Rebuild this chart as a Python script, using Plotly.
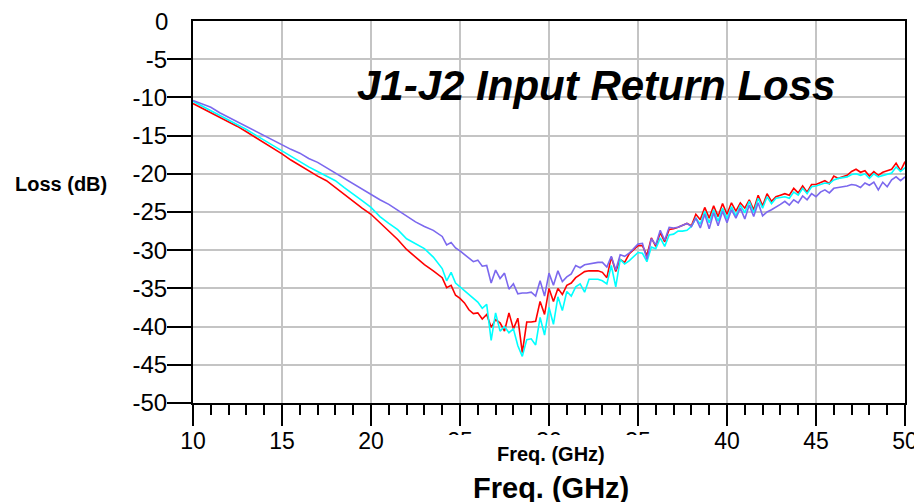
import numpy as np
import plotly.graph_objects as go

# Frequency grid (GHz)
freq_lo = [round(v, 2) for v in np.arange(10.0, 23.75, 0.5)]
freq_hi = [round(v, 2) for v in np.arange(24.0, 50.01, 0.25)]
freq = freq_lo + freq_hi

red_lo = [-10.8, -11.4, -11.9, -12.5, -13.1, -13.8, -14.5, -15.2, -16.0, -16.7,
          -17.4, -18.2, -18.9, -19.7, -20.3, -20.9, -21.8, -22.8, -23.6, -24.5,
          -25.3, -26.4, -27.5, -28.6, -29.9, -30.9, -31.9, -32.7]
red_hi = [-33.6, -34.9, -34.6, -35.9, -36.3, -36.9, -37.8, -38.3, -38.2, -39.0, -38.4, -40.1,
          -39.1, -39.5, -40.6, -38.2, -40.3, -38.9, -43.4, -39.4, -39.4, -39.3, -36.7, -38.4,
          -35.0, -36.7, -35.0, -35.8, -34.6, -34.3, -33.6, -33.2, -32.8, -32.7, -32.7, -32.7,
          -32.9, -33.6, -30.9, -32.8, -31.2, -31.6, -30.5, -30.0, -29.4, -29.4, -30.7, -28.4,
          -29.5, -27.7, -28.9, -27.3, -27.2, -27.0, -26.8, -26.5, -26.8, -25.3, -26.0, -24.4,
          -25.8, -24.2, -25.6, -23.9, -25.3, -23.8, -24.9, -23.8, -24.5, -23.4, -24.7, -22.8,
          -24.2, -22.6, -23.6, -23.0, -22.8, -22.6, -22.8, -21.9, -22.5, -21.6, -22.4, -21.4,
          -21.4, -21.2, -20.9, -21.3, -20.3, -20.6, -20.4, -20.2, -19.7, -19.4, -19.8, -19.6,
          -20.3, -19.7, -20.2, -19.8, -19.6, -19.4, -18.6, -19.6, -18.4]

cyan_lo = [-10.5, -11.1, -11.7, -12.3, -12.9, -13.6, -14.2, -14.9, -15.6, -16.3,
           -17.1, -17.8, -18.4, -19.1, -19.7, -20.3, -20.9, -21.8, -22.6, -23.5,
           -24.4, -25.6, -26.5, -27.3, -28.5, -29.2, -29.8, -30.9]
cyan_hi = [-32.4, -34.0, -32.9, -34.3, -34.8, -35.4, -35.9, -36.4, -36.8, -37.6, -37.1, -41.8,
           -38.2, -40.6, -40.0, -40.8, -40.3, -42.5, -43.9, -41.7, -41.6, -42.4, -38.8, -41.1,
           -37.5, -39.7, -36.1, -37.9, -35.4, -36.0, -34.8, -34.4, -35.5, -33.8, -33.8, -33.8,
           -34.0, -34.4, -32.0, -34.8, -31.2, -31.8, -31.4, -30.8, -30.3, -30.4, -31.5, -29.6,
           -29.8, -28.4, -29.5, -28.0, -27.9, -27.5, -27.5, -27.4, -26.9, -25.8, -26.6, -24.9,
           -26.4, -24.7, -26.2, -24.5, -25.9, -24.3, -25.5, -24.1, -25.1, -23.6, -25.1, -23.2,
           -24.5, -23.0, -23.9, -23.2, -23.1, -23.0, -23.2, -22.4, -22.8, -21.9, -22.6, -21.7,
           -21.6, -21.4, -21.2, -21.3, -20.8, -20.6, -20.5, -20.4, -20.1, -20.0, -20.2, -20.0,
           -20.6, -20.0, -20.4, -20.2, -20.1, -19.9, -19.1, -19.7, -19.2]

blue_lo = [-10.4, -10.9, -11.3, -12.0, -12.6, -13.2, -13.8, -14.4, -15.0, -15.7,
           -16.2, -16.8, -17.3, -18.0, -18.5, -19.2, -19.9, -20.6, -21.3, -22.1,
           -22.7, -23.4, -24.0, -24.8, -25.5, -26.3, -26.9, -27.4]
blue_hi = [-28.2, -29.3, -29.0, -29.7, -30.1, -30.6, -31.0, -31.5, -31.3, -32.1, -32.0, -34.3,
           -32.6, -33.7, -33.0, -35.1, -34.4, -35.7, -35.6, -35.6, -35.5, -36.0, -34.0, -36.0,
           -33.0, -34.6, -32.7, -34.1, -33.5, -33.1, -32.0, -32.3, -31.9, -31.8, -31.7, -31.6,
           -31.6, -32.2, -30.8, -32.6, -30.6, -30.8, -30.4, -29.8, -29.2, -29.1, -31.2, -28.5,
           -29.3, -27.4, -28.7, -27.0, -27.1, -27.0, -26.7, -26.5, -26.9, -25.8, -27.1, -25.3,
           -27.2, -25.1, -26.8, -24.9, -26.4, -24.7, -25.8, -24.5, -25.9, -24.1, -25.6, -23.8,
           -25.5, -25.0, -24.7, -24.4, -24.0, -23.6, -24.1, -23.4, -23.8, -22.9, -23.4, -22.6,
           -23.0, -22.4, -22.1, -22.5, -21.9, -21.8, -21.7, -21.6, -21.4, -21.5, -21.8, -21.2,
           -21.5, -21.1, -22.1, -21.1, -21.7, -20.8, -20.4, -20.9, -20.4]

series = [
    ("red", red_lo + red_hi, "#ff0000"),
    ("cyan", cyan_lo + cyan_hi, "#00ffff"),
    ("blue", blue_lo + blue_hi, "#7b68ee"),
]

y_ticks = list(range(-50, 1, 5))
y_ticktext = [str(v) for v in y_ticks]
x_ticks = [10, 15, 20, 25, 30, 35, 40, 45, 50]

FONT = "Liberation Sans, Arial, sans-serif"

fig = go.Figure()
for name, vals, col in series:
    fig.add_trace(go.Scatter(x=freq, y=vals, mode="lines", name=name,
                             line=dict(color=col, width=1.6), showlegend=False))

# page body has an 8px default margin, so the figure is 8px smaller than the window
fig.update_layout(
    width=914, height=494,
    margin=dict(l=185, r=17, t=13, b=99, autoexpand=False),
    paper_bgcolor="white", plot_bgcolor="white",
    font=dict(family=FONT, color="black"),
)
fig.update_xaxes(
    range=[10, 50], tickvals=x_ticks, ticktext=[str(v) for v in x_ticks],
    automargin=False, ticklabeloverflow="allow",
    showgrid=True, gridcolor="#c4c4c4", gridwidth=2,
    showline=True, linecolor="black", linewidth=2, mirror=True,
    ticks="outside", ticklen=21, tickwidth=1.5, tickcolor="black",
    ticklabelstandoff=-5,
    minor=dict(dtick=1, ticks="outside", ticklen=10, tickwidth=1.5, tickcolor="black", showgrid=False),
    tickfont=dict(size=23, family=FONT, color="black"),
    zeroline=False,
)
# ticks for -50..-5 on the axis; the top label "0" has no tick mark in the original
fig.update_yaxes(
    range=[-50, 0], tickvals=y_ticks[:-1], ticktext=y_ticktext[:-1],
    automargin=False, ticklabeloverflow="allow",
    showgrid=True, gridcolor="#c4c4c4", gridwidth=2,
    showline=True, linecolor="black", linewidth=2, mirror=True,
    ticks="outside", ticklen=24, tickwidth=1.5, tickcolor="black",
    ticklabelstandoff=-5,
    tickfont=dict(size=24, family=FONT, color="black"),
    zeroline=False,
)
fig.add_annotation(text=y_ticktext[-1], xref="paper", yref="y", x=0, y=y_ticks[-1],
                   xanchor="right", yanchor="middle", xshift=-23, showarrow=False,
                   font=dict(size=24, family=FONT, color="black"))

# white box over the middle x tick labels (as in the original)
fig.add_shape(type="rect", xref="paper", yref="paper",
              x0=0.347, x1=0.659, y0=-0.18, y1=-0.084,
              fillcolor="white", line=dict(width=0), layer="above")

fig.add_annotation(text="<b><i>J1-J2 Input Return Loss</i></b>", xref="paper", yref="paper",
                   x=0.5667, y=0.832, xanchor="center", yanchor="middle", showarrow=False,
                   font=dict(size=42, family=FONT, color="black"))
fig.add_annotation(text="<b>Loss (dB)</b>", xref="paper", yref="paper",
                   x=-0.1854, y=0.573, xanchor="center", yanchor="middle", showarrow=False,
                   font=dict(size=20, family=FONT, color="black"))
fig.add_annotation(text="<b>Freq. (GHz)</b>", xref="paper", yref="paper",
                   x=0.5025, y=-0.133, xanchor="center", yanchor="middle", showarrow=False,
                   font=dict(size=20, family=FONT, color="black"))
fig.add_annotation(text="<b>Freq. (GHz)</b>", xref="paper", yref="paper",
                   x=0.5025, y=-0.2223, xanchor="center", yanchor="middle", showarrow=False,
                   font=dict(size=29, family=FONT, color="black"))

fig.write_html("out.html")
